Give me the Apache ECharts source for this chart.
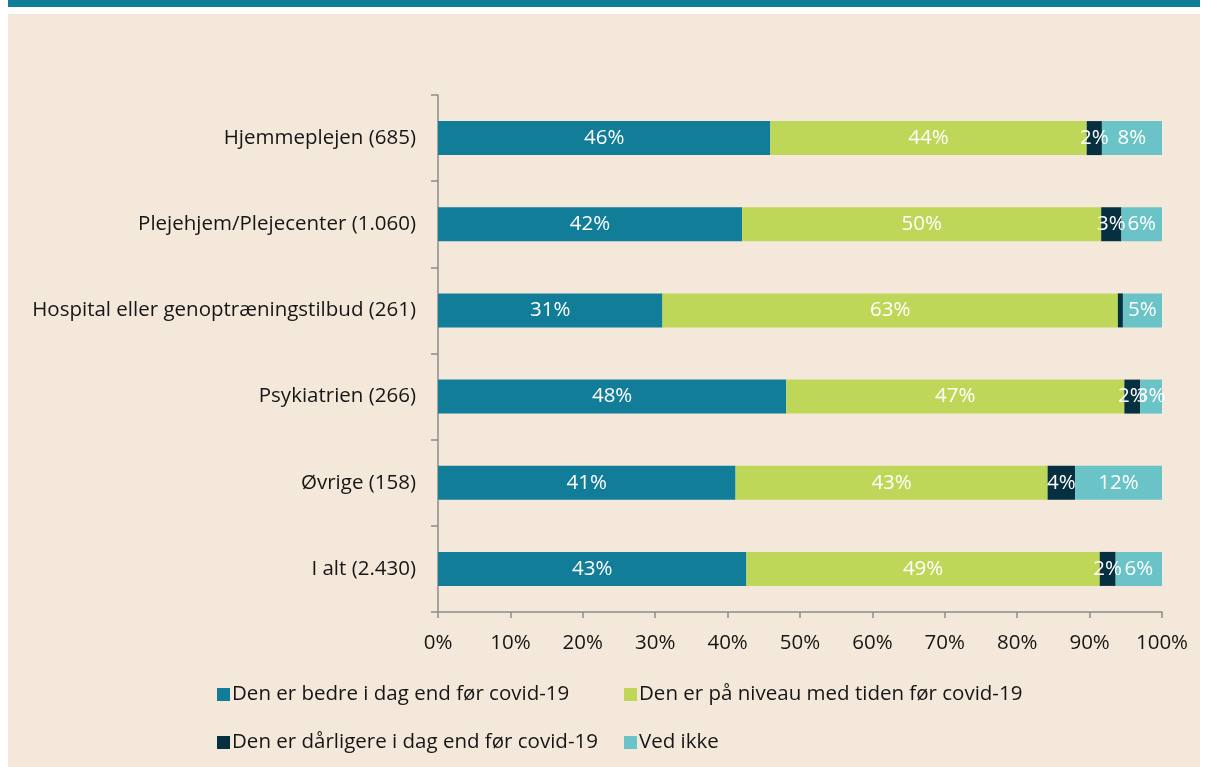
<!DOCTYPE html>
<html>
<head>
<meta charset="utf-8">
<script src="https://cdn.jsdelivr.net/npm/echarts@6/dist/echarts.min.js"></script>
<style>
    body { margin: 0; background: #ffffff; }
    #topBar { position: absolute; left: 8px; top: 0; width: 1192px; height: 7px; background: #117d99; }
    #panel { position: absolute; left: 8px; top: 14px; width: 1192px; height: 753px; background: #f4e8db; }
    #chart { position: absolute; left: 0; top: 0; width: 1208px; height: 767px; }
</style>
</head>
<body>
<div id="topBar"></div>
<div id="panel"></div>
<div id="chart"></div>
<script>
var categories = ["Hjemmeplejen (685)", "Plejehjem/Plejecenter (1.060)", "Hospital eller genoptræningstilbud (261)", "Psykiatrien (266)", "Øvrige (158)", "I alt (2.430)"];
var seriesNames = ["Den er bedre i dag end før covid-19", "Den er på niveau med tiden før covid-19", "Den er dårligere i dag end før covid-19", "Ved ikke"];
var bedre = [45.9, 42.0, 31.0, 48.1, 41.1, 42.6];
var niveau = [43.7, 49.6, 62.9, 46.7, 43.1, 48.8];
var daarligere = [2.1, 2.8, 0.7, 2.2, 3.8, 2.2];
var vedIkke = [8.3, 5.6, 5.4, 3.0, 12.0, 6.4];
var colors = ["#117d99", "#bed758", "#06303f", "#69c3c7"];

var font = "'Open Sans', 'Noto Sans', sans-serif";
var fontSize = 20.5;
var axisColor = "#8c8c8c";

var myChart = echarts.init(document.getElementById("chart"));

var makeSeries = function (idx, data) {
    return {
        name: seriesNames[idx],
        type: "bar",
        stack: "total",
        barWidth: 34,
        data: data,
        itemStyle: { color: colors[idx] },
        label: {
            show: true,
            position: "inside",
            color: "#ffffff",
            fontFamily: font,
            fontSize: fontSize,
            formatter: function (p) {
                if (p.value < 1) return "";
                return Math.round(p.value) + "%";
            }
        },
        emphasis: { disabled: true }
    };
};

var legendAt = function (idx, left, top) {
    return {
        data: [seriesNames[idx]],
        left: left,
        top: top,
        icon: "rect",
        itemWidth: 13,
        itemHeight: 13,
        itemGap: 0,
        textStyle: { fontFamily: font, fontSize: fontSize, color: "#161616", padding: [0, 0, 0, -3] }
    };
};

var option = {
    animation: false,
    grid: { left: 438, right: 46, top: 95, bottom: 155 },
    xAxis: {
        type: "value",
        min: 0,
        max: 100,
        interval: 10,
        axisLine: { show: true, lineStyle: { color: axisColor, width: 1.5 } },
        axisTick: { show: true, length: 6, lineStyle: { color: axisColor, width: 1.5 } },
        splitLine: { show: false },
        axisLabel: { formatter: "{value}%", margin: 21, color: "#161616", fontFamily: font, fontSize: fontSize }
    },
    yAxis: {
        type: "category",
        inverse: true,
        data: categories,
        axisLine: { show: true, lineStyle: { color: axisColor, width: 1.5 } },
        axisTick: { show: true, length: 7, alignWithLabel: false, lineStyle: { color: axisColor, width: 1.5 } },
        axisLabel: { margin: 22, color: "#161616", fontFamily: font, fontSize: fontSize }
    },
    legend: [
        legendAt(0, 212, 679),
        legendAt(1, 619, 679),
        legendAt(2, 212, 727),
        legendAt(3, 619, 727)
    ],
    series: [
        makeSeries(0, bedre),
        makeSeries(1, niveau),
        makeSeries(2, daarligere),
        makeSeries(3, vedIkke)
    ]
};

myChart.setOption(option);
</script>
</body>
</html>
